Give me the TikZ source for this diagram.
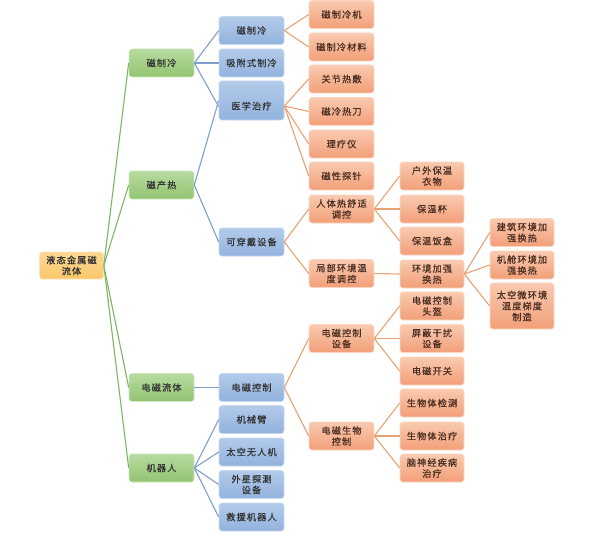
\documentclass[tikz,border=0pt]{standalone}
\usepackage{fontspec}
\setmainfont{Noto Sans CJK SC}[LetterSpace=12, FakeBold=0.6]
\begin{document}
\begin{tikzpicture}[x=1pt,y=-1pt,
  every node/.style={font=\fontsize{9.2}{11}\selectfont, align=center, inner sep=1pt},
  box/.style={rounded corners=3pt, minimum width=65pt, minimum height=28pt, draw=#1, line width=0.6pt},
  rootbox/.style={box=rootedge, top color=rootT, bottom color=rootB, text=txtdark, minimum width=64pt, minimum height=27pt},
  gbox/.style={box=gedge, top color=gT, bottom color=gB, text=txtdark},
  bbox/.style={box=bedge, top color=bT, bottom color=bB, text=txtdark},
  obox/.style={box=oedge, top color=oT, bottom color=oB, text=txtor},
  pbox/.style={obox, minimum width=64pt},
  txt/.style={text=txtdark},
  gline/.style={draw=gL, line width=1.1pt},
  bline/.style={draw=bL, line width=1.1pt},
  oline/.style={draw=oL, line width=1.1pt}
]
\definecolor{rootT}{HTML}{FDD894}
\definecolor{rootB}{HTML}{FAC76A}
\definecolor{rootedge}{HTML}{FDE3B4}
\definecolor{gT}{HTML}{B7DBA0}
\definecolor{gB}{HTML}{92C471}
\definecolor{gedge}{HTML}{CDE6BC}
\definecolor{bT}{HTML}{B3CBEA}
\definecolor{bB}{HTML}{92B2DD}
\definecolor{bedge}{HTML}{C8D8F0}
\definecolor{oT}{HTML}{F9CAB0}
\definecolor{oB}{HTML}{F29F78}
\definecolor{oedge}{HTML}{FAD6C3}
\definecolor{gL}{HTML}{7FB662}
\definecolor{bL}{HTML}{7F9FCC}
\definecolor{oL}{HTML}{E8A274}
\definecolor{txtdark}{HTML}{333333}
\definecolor{txtor}{HTML}{4A2E22}

\useasboundingbox (0,0) rectangle (612,532);
\fill[white] (0,0) rectangle (612,532);

% root
\node[rootbox] (r) at (71.5,265.5) {液态金属磁\\流体};
% level 1
\node[gbox] (g1) at (161.5,63) {磁制冷};
\node[gbox] (g2) at (161.5,185) {磁产热};
\node[gbox] (g3) at (161.5,387.5) {电磁流体};
\node[gbox] (g4) at (161.5,468) {机器人};
% level 2
\node[bbox] (b1) at (251.5,30.5) {磁制冷};
\node[bbox] (b2) at (251.5,63) {吸附式制冷};
\node[bbox, minimum height=39pt] (b3) at (251.5,100.5) {};
\node[txt] (b3t) at (251.5,106) {医学治疗};
\node[bbox] (b4) at (251.5,242) {可穿戴设备};
\node[bbox] (b5) at (251.5,387.5) {电磁控制};
\node[bbox] (b6) at (251.5,419.5) {机械臂};
\node[bbox] (b7) at (251.5,452) {太空无人机};
\node[bbox] (b8) at (251.5,484.5) {外星探测\\设备};
\node[bbox] (b9) at (251.5,517) {救援机器人};
% level 3
\node[obox] (o1) at (341.5,14.5) {磁制冷机};
\node[obox] (o2) at (341.5,47) {磁制冷材料};
\node[obox] (o3) at (341.5,79) {关节热敷};
\node[obox] (o4) at (341.5,111.5) {磁冷热刀};
\node[obox] (o5) at (341.5,144) {理疗仪};
\node[obox] (o6) at (341.5,176) {磁性探针};
\node[obox] (o7) at (341.5,209) {人体热舒适\\调控};
\node[obox] (o8) at (341.5,273.5) {局部环境温\\度调控};
\node[obox] (o9) at (341.5,338.5) {电磁控制\\设备};
\node[obox] (o10) at (341.5,436) {电磁生物\\控制};
% level 4
\node[pbox] (p1) at (432,176) {户外保温\\衣物};
\node[pbox] (p2) at (432,209) {保温杯};
\node[pbox] (p3) at (432,241) {保温饭盒};
\node[pbox] (p4) at (432,274) {环境加强\\换热};
\node[pbox] (p5) at (432,306) {电磁控制\\头盔};
\node[pbox] (p6) at (432,338.5) {屏蔽干扰\\设备};
\node[pbox] (p7) at (432,371) {电磁开关};
\node[pbox] (p8) at (432,403) {生物体检测};
\node[pbox] (p9) at (432,436) {生物体治疗};
\node[pbox] (p10) at (432,468) {脑神经疾病\\治疗};
% level 5
\node[pbox] (q1) at (522,232.5) {建筑环境加\\强换热};
\node[pbox] (q2) at (522,265) {机舱环境加\\强换热};
\node[pbox, minimum height=46pt] (q3) at (522,306) {太空微环境\\温度梯度\\制造};

% connectors
\foreach \c in {g1,g2,g3,g4} \draw[gline] (r.east) -- (\c.west);
\foreach \c in {b1,b2} \draw[bline] (g1.east) -- (\c.west);
\draw[bline] (g1.east) -- ([yshift=-6pt]b3.west);
\draw[bline] (g2.east) -- (b3.west);
\draw[bline] (g2.east) -- (b4.west);
\draw[bline] (g3.east) -- (b5.west);
\foreach \c in {b6,b7,b8,b9} \draw[bline] (g4.east) -- (\c.west);
\foreach \c in {o1,o2} \draw[oline] (b1.east) -- (\c.west);
\foreach \c in {o3,o4,o5,o6} \draw[oline] (b3.east |- b3t) -- (\c.west);
\foreach \c in {o7,o8} \draw[oline] (b4.east) -- (\c.west);
\foreach \c in {o9,o10} \draw[oline] (b5.east) -- (\c.west);
\foreach \c in {p1,p2,p3} \draw[oline] (o7.east) -- (\c.west);
\draw[oline] (o8.east) -- (p4.west);
\foreach \c in {p5,p6,p7} \draw[oline] (o9.east) -- (\c.west);
\foreach \c in {p8,p9,p10} \draw[oline] (o10.east) -- (\c.west);
\foreach \c in {q1,q2,q3} \draw[oline] (p4.east) -- (\c.west);
\end{tikzpicture}
\end{document}
